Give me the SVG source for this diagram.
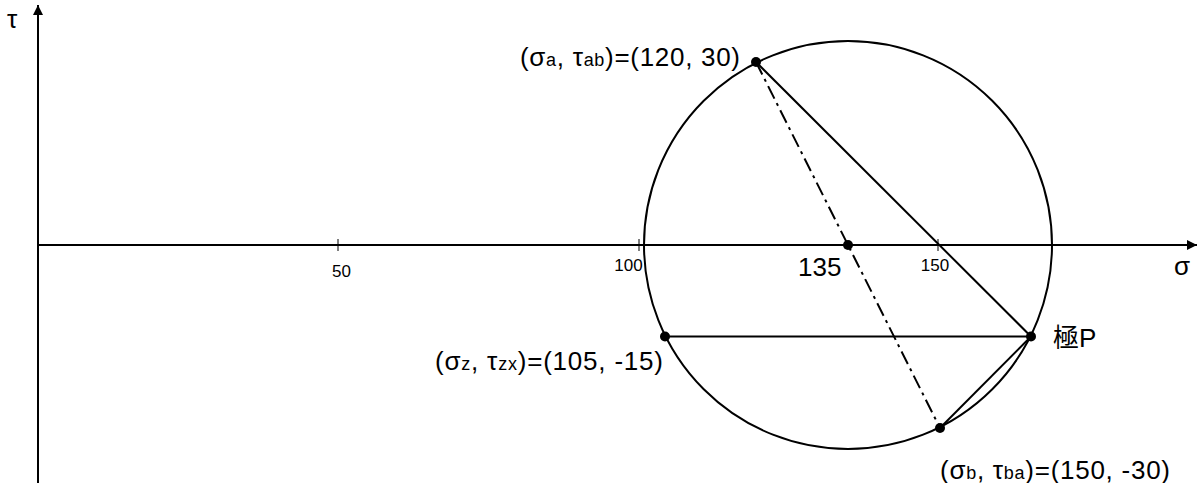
<svg xmlns="http://www.w3.org/2000/svg" width="1197" height="483" viewBox="0 0 1197 483">
<style>
text{font-family:"Liberation Sans",Arial,"Noto Sans CJK SC",sans-serif;fill:#000}
.lbl{font-size:26px}
.sub{font-size:18px}
.tick{font-size:17px;text-anchor:middle}
.ln{stroke:#000;stroke-width:2;fill:none}
.dot{fill:#000}
</style>
<defs>
<marker id="arr" viewBox="0 0 10 10" refX="10" refY="5" markerWidth="10" markerHeight="10" markerUnits="userSpaceOnUse" orient="auto">
<path d="M0,0 L10,5 L0,10 z" fill="#000"/>
</marker>
</defs>
<g id="axes">
<line class="ln" x1="38" y1="483" x2="38" y2="5" marker-end="url(#arr)"/>
<line class="ln" x1="38" y1="245" x2="1197" y2="245" marker-end="url(#arr)"/>
<line stroke="#000" stroke-width="1" x1="338" y1="239" x2="338" y2="251"/>
<line stroke="#000" stroke-width="1" x1="639" y1="239" x2="639" y2="251"/>
<line stroke="#000" stroke-width="1" x1="938" y1="239" x2="938" y2="251"/>
<text class="tick" x="341.5" y="277">50</text>
<text class="tick" x="628.5" y="271">100</text>
<text class="tick" x="935" y="271">150</text>
<text class="lbl" x="7" y="28">τ</text>
<text class="lbl" x="1174" y="275">σ</text>
</g>
<g id="circle">
<circle class="ln" cx="848" cy="245" r="204"/>
</g>
<g id="connectors">
<line class="ln" x1="756" y1="62" x2="1031" y2="336.5"/>
<line class="ln" x1="665" y1="336.5" x2="1031" y2="336.5"/>
<line class="ln" x1="1031" y1="336.5" x2="940" y2="428"/>
<line class="ln" x1="756" y1="62" x2="940" y2="428" stroke-dasharray="14,5,3,5"/>
</g>
<g id="center">
<circle class="dot" cx="848" cy="245" r="5"/>
<text class="lbl" x="798" y="276">135</text>
</g>
<g id="pointA">
<circle class="dot" cx="756" cy="62" r="5"/>
<text class="lbl" x="520" y="66" textLength="220" lengthAdjust="spacing">(σ<tspan class="sub">a</tspan>, τ<tspan class="sub">ab</tspan>)=(120, 30)</text>
</g>
<g id="pointZ">
<circle class="dot" cx="665" cy="336.5" r="5"/>
<text class="lbl" x="435" y="370" textLength="228" lengthAdjust="spacing">(σ<tspan class="sub">z</tspan>, τ<tspan class="sub">zx</tspan>)=(105, -15)</text>
</g>
<g id="pointP">
<circle class="dot" cx="1031" cy="336.5" r="5"/>
<text class="lbl" x="1053" y="347">極P</text>
</g>
<g id="pointB">
<circle class="dot" cx="940" cy="428" r="5"/>
<text class="lbl" x="940" y="479" textLength="230" lengthAdjust="spacing">(σ<tspan class="sub">b</tspan>, τ<tspan class="sub">ba</tspan>)=(150, -30)</text>
</g>
</svg>
